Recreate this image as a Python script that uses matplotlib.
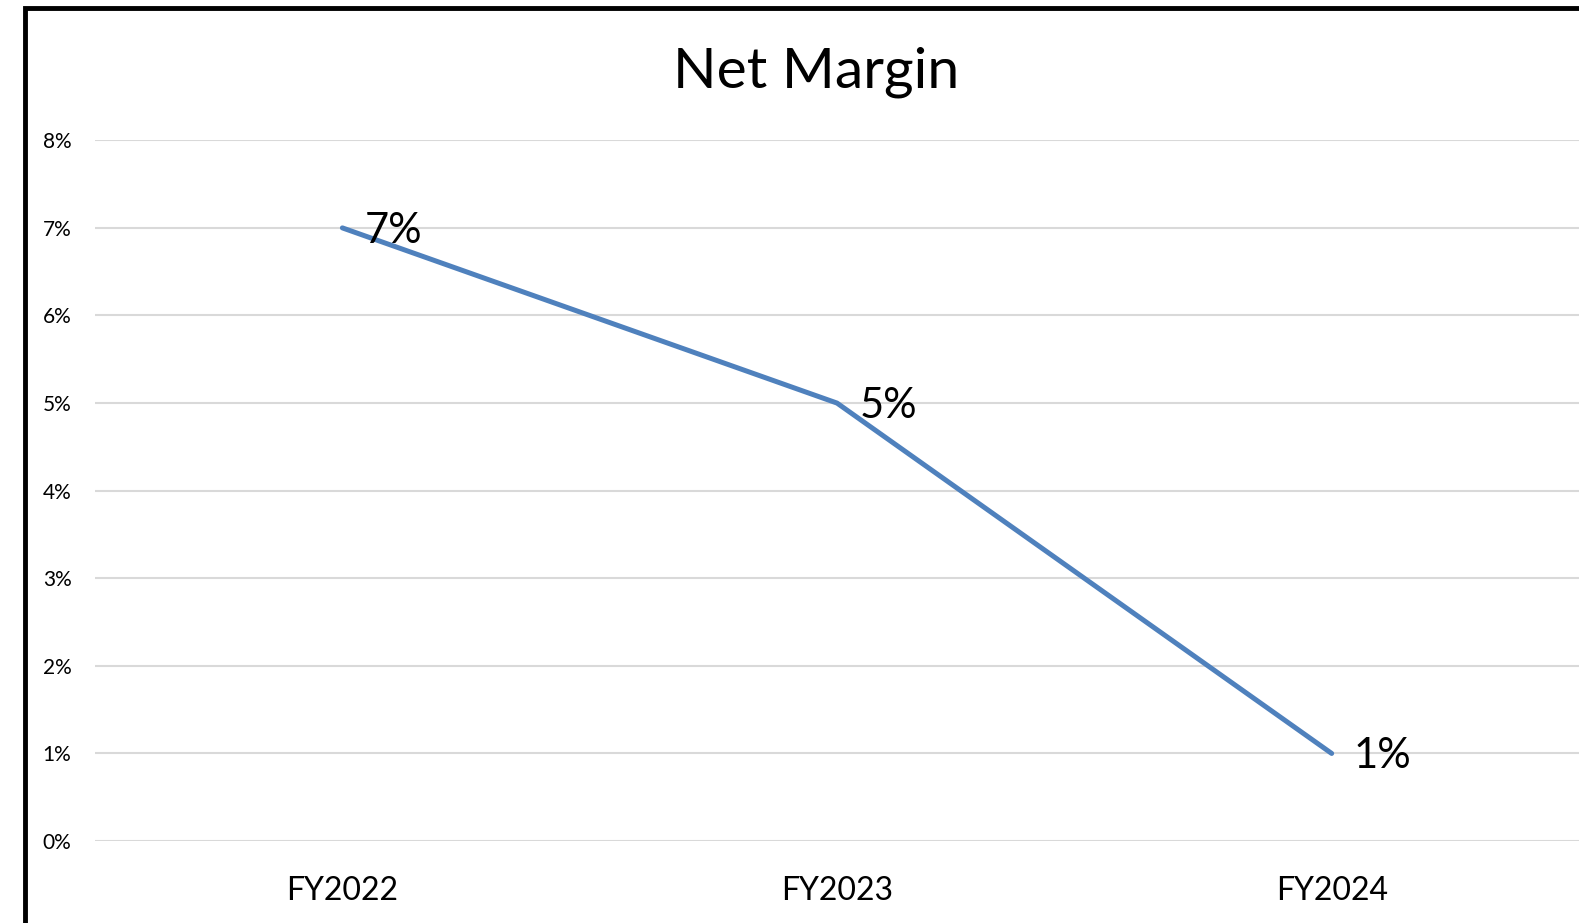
import matplotlib
matplotlib.use("Agg")
from matplotlib import pyplot as plt
from matplotlib.patches import Rectangle
from matplotlib.ticker import FuncFormatter

# chart data
years = ["FY2022", "FY2023", "FY2024"]
net_margin = [0.07, 0.05, 0.01]
point_labels = ["7%", "5%", "1%"]
y_ticks = [0, 0.01, 0.02, 0.03, 0.04, 0.05, 0.06, 0.07, 0.08]

plt.rcParams['font.family'] = ['Lato', 'DejaVu Sans']

fig = plt.figure(figsize=(15.79, 9.23), dpi=100)
ax = fig.add_axes([0.0602, 0.0888, 0.9398, 0.7592])

x = list(range(len(years)))
ax.plot(x, net_margin, color='#4F81BD', linewidth=3.6, solid_capstyle='round', zorder=3)

for xi, v, lab in zip(x, net_margin, point_labels):
    ax.annotate(lab, (xi, v), xytext=(16, -2), textcoords='offset points',
                ha='left', va='center', fontsize=30, color='black')

ax.set_xlim(-0.5, 2.5)
ax.set_ylim(0, 0.08)
ax.set_xticks(x)
ax.set_xticklabels(years)
ax.set_yticks(y_ticks)
ax.yaxis.set_major_formatter(FuncFormatter(lambda v, p: f"{v*100:.0f}%"))
ax.tick_params(axis='y', length=0, pad=17, labelsize=15)
ax.tick_params(axis='x', length=0, pad=25, labelsize=23)
ax.grid(axis='y', color='#D9D9D9', linewidth=1.5)
ax.set_axisbelow(True)
for s in ax.spines.values():
    s.set_visible(False)

fig.text(0.517, 0.922, "Net Margin", ha='center', va='center', fontsize=41)

# outer chart border (only left and top visible in the crop)
fig.patches.append(Rectangle((0.0158, -0.1), 1.2, 1.0908, transform=fig.transFigure,
                             fill=False, edgecolor='black', linewidth=3.5))

fig.savefig("out.png", dpi=100)
